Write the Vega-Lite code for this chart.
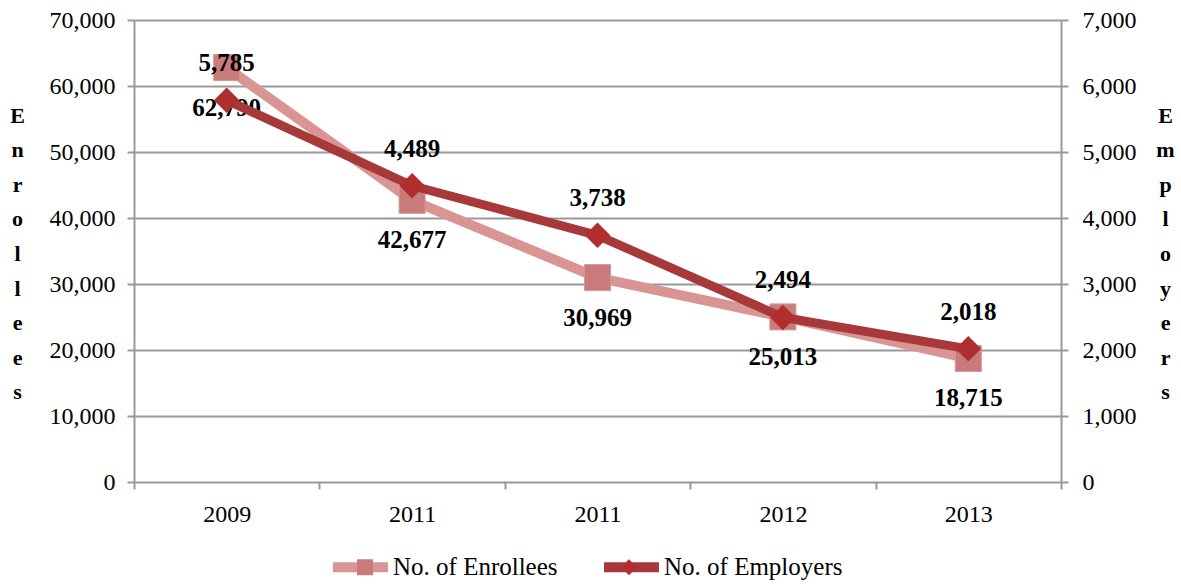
{
  "$schema": "https://vega.github.io/schema/vega-lite/v6.json",
  "width": 927,
  "height": 462,
  "autosize": {"type": "none"},
  "padding": {"left": 134, "top": 20, "right": 120, "bottom": 102},
  "background": "white",
  "config": {
    "view": {"stroke": null},
    "font": "Liberation Serif",
    "axis": {"labelFont": "Liberation Serif", "titleFont": "Liberation Serif", "labelColor": "#000", "titleColor": "#000"},
    "legend": {"labelFont": "Liberation Serif", "labelColor": "#000"}
  },
  "data": {
    "values": [
      {"idx": 0, "year": "2009", "enrollees": 62790, "employers": 5785},
      {"idx": 1, "year": "2011", "enrollees": 42677, "employers": 4489},
      {"idx": 2, "year": "2011", "enrollees": 30969, "employers": 3738},
      {"idx": 3, "year": "2012", "enrollees": 25013, "employers": 2494},
      {"idx": 4, "year": "2013", "enrollees": 18715, "employers": 2018}
    ]
  },
  "encoding": {
    "x": {
      "field": "idx",
      "type": "ordinal",
      "scale": {"type": "band", "paddingInner": 0, "paddingOuter": 0},
      "axis": {
        "title": null,
        "labelExpr": "['2009','2011','2011','2012','2013'][datum.value]",
        "labelAngle": 0,
        "labelFontSize": 24,
        "labelPadding": 13,
        "tickBand": "extent",
        "tickColor": "#999",
        "tickSize": 7,
        "tickWidth": 2,
        "domain": false,
        "grid": false
      }
    }
  },
  "layer": [
    {
      "layer": [
        {
          "mark": {"type": "line", "strokeWidth": 10, "strokeCap": "butt", "strokeJoin": "round"},
          "encoding": {
            "y": {
              "field": "enrollees",
              "type": "quantitative",
              "scale": {"domain": [0, 70000], "nice": false},
              "axis": {
                "title": ["E", "n", "r", "o", "l", "l", "e", "e", "s"],
                "titleAngle": 0,
                "titleFontSize": 22,
                "titleFontWeight": "bold",
                "titleLineHeight": 34.6,
                "titleX": -117,
                "titleY": 95,
                "titleAlign": "center",
                "titleBaseline": "middle",
                "values": [0, 10000, 20000, 30000, 40000, 50000, 60000, 70000],
                "format": ",d",
                "labelFontSize": 24,
                "labelPadding": 12,
                "tickColor": "#999",
                "tickSize": 7,
                "tickWidth": 2,
                "domainColor": "#999",
                "domainWidth": 2,
                "grid": true,
                "gridColor": "#999",
                "gridWidth": 2
              }
            },
            "color": {
              "datum": "No. of Enrollees",
              "type": "nominal",
              "scale": {"domain": ["No. of Enrollees", "No. of Employers"], "range": ["#D99594", "#A8393A"]},
              "legend": {
                "title": null,
                "orient": "none",
                "direction": "horizontal",
                "legendX": 194,
                "legendY": 514.5,
                "symbolType": "stroke",
                "symbolSize": 3025,
                "symbolStrokeWidth": 10,
                "labelFontSize": 25,
                "labelOffset": 0,
                "columnPadding": 26,
                "labelLimit": 400
              }
            }
          }
        },
        {
          "mark": {"type": "point", "filled": true, "size": 676, "stroke": "#D99594", "strokeWidth": 1, "opacity": 1},
          "encoding": {
            "y": {"field": "enrollees", "type": "quantitative"},
            "fill": {
              "datum": "E",
              "type": "nominal",
              "scale": {"domain": ["E", "M"], "range": ["#C97B7B", "#B02E2E"]},
              "legend": {
                "title": null,
                "orient": "none",
                "direction": "horizontal",
                "legendX": 218.5,
                "legendY": 534.5,
                "symbolSize": 256,
                "symbolStrokeWidth": 0,
                "labelFontSize": 25,
                "labelOffset": 0,
                "columnPadding": 239,
                "labelExpr": "''"
              }
            },
            "shape": {
              "datum": "E",
              "type": "nominal",
              "scale": {"domain": ["E", "M"], "range": ["square", "diamond"]}
            }
          }
        },
        {
          "mark": {"type": "text", "dy": 40, "fontSize": 25, "fontWeight": "bold", "font": "Liberation Serif", "color": "#000"},
          "encoding": {
            "y": {"field": "enrollees", "type": "quantitative"},
            "text": {"field": "enrollees", "type": "quantitative", "format": ",d"}
          }
        }
      ]
    },
    {
      "layer": [
        {
          "mark": {"type": "line", "strokeWidth": 9, "strokeCap": "butt", "strokeJoin": "round"},
          "encoding": {
            "y": {
              "field": "employers",
              "type": "quantitative",
              "scale": {"domain": [0, 7000], "nice": false},
              "axis": {
                "orient": "right",
                "title": ["E", "m", "p", "l", "o", "y", "e", "r", "s"],
                "titleAngle": 0,
                "titleFontSize": 22,
                "titleFontWeight": "bold",
                "titleLineHeight": 34.6,
                "titleX": 104,
                "titleY": 95,
                "titleAlign": "center",
                "titleBaseline": "middle",
                "values": [0, 1000, 2000, 3000, 4000, 5000, 6000, 7000],
                "format": ",d",
                "labelFontSize": 24,
                "labelPadding": 14,
                "tickColor": "#999",
                "tickSize": 7,
                "tickWidth": 2,
                "domainColor": "#999",
                "domainWidth": 2,
                "grid": false
              }
            },
            "color": {"datum": "No. of Employers", "type": "nominal"}
          }
        },
        {
          "mark": {"type": "point", "filled": true, "size": 650, "strokeWidth": 0, "opacity": 1},
          "encoding": {
            "y": {"field": "employers", "type": "quantitative"},
            "fill": {"datum": "M", "type": "nominal"},
            "shape": {"datum": "M", "type": "nominal"}
          }
        },
        {
          "mark": {"type": "text", "dy": -37, "fontSize": 25, "fontWeight": "bold", "font": "Liberation Serif", "color": "#000"},
          "encoding": {
            "y": {"field": "employers", "type": "quantitative"},
            "text": {"field": "employers", "type": "quantitative", "format": ",d"}
          }
        }
      ]
    }
  ],
  "resolve": {"scale": {"y": "independent"}}
}
